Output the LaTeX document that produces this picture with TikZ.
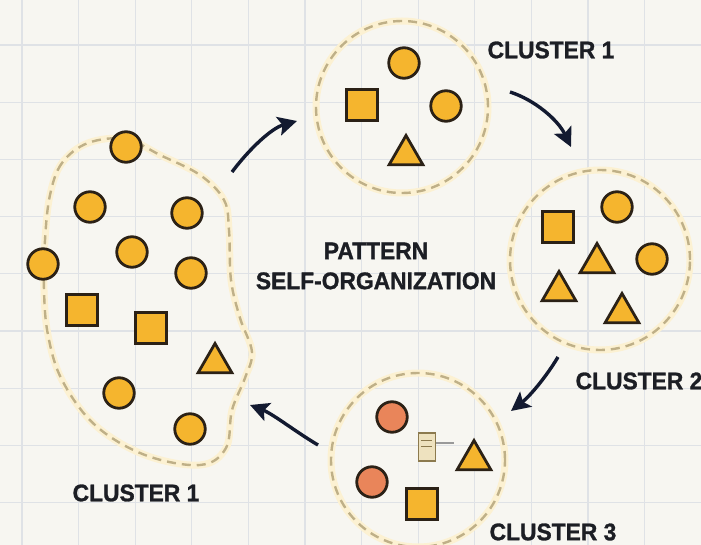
\documentclass[tikz,border=0pt]{standalone}
\usepackage{fontspec}
\setmainfont{Liberation Sans}
\newfontfamily\lblfont{Liberation Sans}[FakeStretch=0.95,FakeBold=1.2]
\usetikzlibrary{arrows.meta,shapes.geometric}
\definecolor{bg}{HTML}{F7F6F1}
\definecolor{gridc}{HTML}{DFE2E6}
\definecolor{gold}{HTML}{F5B52E}
\definecolor{edge}{HTML}{2B2116}
\definecolor{coral}{HTML}{E9855A}
\definecolor{dashc}{HTML}{BFB088}
\definecolor{glow}{HTML}{FCF1D2}
\definecolor{arrowc}{HTML}{131A30}
\definecolor{txt}{HTML}{1C1E24}
\definecolor{tan}{HTML}{8C7A4E}
\definecolor{tanfill}{HTML}{EEE2BF}
\tikzset{
  gridline/.style={draw=gridc, line width=1.1pt},
  shp/.style={draw=edge, fill=gold, line width=2.8pt, inner sep=0pt, outer sep=0pt},
  circ/.style={shp, circle, minimum size=30.5pt},
  ccirc/.style={circ, fill=coral},
  sq/.style={shp, rectangle, minimum size=30.5pt},
  tri/.style={shp, regular polygon, regular polygon sides=3, minimum size=39pt},
  clusterring/.style={circle, inner sep=0pt, draw=dashc, line width=2.4pt,
    dash pattern=on 9pt off 6pt,
    preaction={draw=glow, line width=7pt, solid}},
  blob/.style={draw=dashc, line width=2.4pt, dash pattern=on 9pt off 6pt,
    preaction={draw=glow, line width=7pt, solid}},
  lbl/.style={text=txt, inner sep=0pt, font=\lblfont\bfseries\fontsize{24}{28}\selectfont},
  flow/.style={draw=arrowc, line width=3.4pt, -{Stealth[length=19pt,width=19pt,inset=4pt]}},
}
\begin{document}
\begin{tikzpicture}[x=1pt,y=-1pt]
\fill[bg] (0,0) rectangle (701,545);
\useasboundingbox (0,0) rectangle (701,545);
% grid
\foreach \i in {0,...,12} \draw[gridline] ({22+56.6*\i},0) -- ({22+56.6*\i},545);
\foreach \j in {0,...,8} \draw[gridline] (0,{45+57.2*\j}) -- (701,{45+57.2*\j});

% left blob cluster
\draw[blob] plot[smooth cycle, tension=0.6] coordinates {
  (88,143) (62,163) (50,195) (45,240) (44,290) (48,335) (62,380) (95,425)
  (145,455) (200,465) (226,448) (232,410) (245,378) (252,352) (240,318)
  (231,280) (229,230) (224,200) (200,175) (160,155) (126,139)};
\node[circ] (l1) at (126,147) {};
\node[circ] (l2) at (90,207) {};
\node[circ] (l3) at (187,213) {};
\node[circ] (l4) at (132,252) {};
\node[circ] (l5) at (43,264) {};
\node[circ] (l6) at (191,273) {};
\node[sq]   (l7) at (82,310) {};
\node[sq]   (l8) at (151,328) {};
\node[tri]  (l9) at (215,363) {};
\node[circ] (l10) at (119,393) {};
\node[circ] (l11) at (190,429) {};

% top cluster
\node[clusterring, minimum size=172pt] (ct) at (402,107) {};
\node[circ] (t1) at (404,63) {};
\node[sq]   (t2) at (362,105) {};
\node[circ] (t3) at (446,106) {};
\node[tri]  (t4) at (406,155) {};

% right cluster
\node[clusterring, minimum size=180pt] (cr) at (600,260) {};
\node[sq]   (r1) at (558,227) {};
\node[circ] (r2) at (617,207) {};
\node[tri]  (r3) at (597,263) {};
\node[circ] (r4) at (652,259) {};
\node[tri]  (r5) at (559,291) {};
\node[tri]  (r6) at (622,313) {};

% bottom cluster
\node[clusterring, minimum size=174pt] (cb) at (418,460) {};
\node[ccirc] (b1) at (392,417) {};
\node[ccirc] (b2) at (372,482) {};
\node[tri]   (b3) at (474,460) {};
\node[sq]    (b4) at (422,504) {};
% small stray glyph
\node[draw=tan, fill=tanfill, line width=1.4pt, minimum width=17pt, minimum height=28pt, inner sep=0pt] (g) at (427,447) {};
\draw[draw=tan, line width=1.1pt] (g.north west) ++(3,8) -- ++(11,0);
\draw[draw=tan, line width=1.1pt] (g.north west) ++(3,14) -- ++(11,0);
\draw[draw=gray!80, line width=1.1pt] (g.east) ++(0,-4) -- ++(18,0);

% labels
\node[lbl] (lab1) at (551,50) {CLUSTER 1};
\node[lbl] (lab2) at (639,381) {CLUSTER 2};
\node[lbl] (lab3) at (553,532) {CLUSTER 3};
\node[lbl] (lab4) at (136,493) {CLUSTER 1};
\node[lbl, align=center, font=\lblfont\bfseries\fontsize{24}{30}\selectfont] (title) at (376,266) {PATTERN\\SELF-ORGANIZATION};

% arrows
\coordinate (a1s) at (232,172); \coordinate (a1e) at (297,121);
\coordinate (a2s) at (510,92);  \coordinate (a2e) at (571,147);
\coordinate (a3s) at (558,357); \coordinate (a3e) at (511,411);
\coordinate (a4s) at (318,445); \coordinate (a4e) at (250,405);
\draw[flow] (a1s) .. controls (250,148) and (272,128) .. (a1e);
\draw[flow] (a2s) .. controls (535,100) and (558,120) .. (a2e);
\draw[flow] (a3s) .. controls (546,377) and (530,396) .. (a3e);
\draw[flow] (a4s) .. controls (296,432) and (273,414) .. (a4e);
\end{tikzpicture}
\end{document}
